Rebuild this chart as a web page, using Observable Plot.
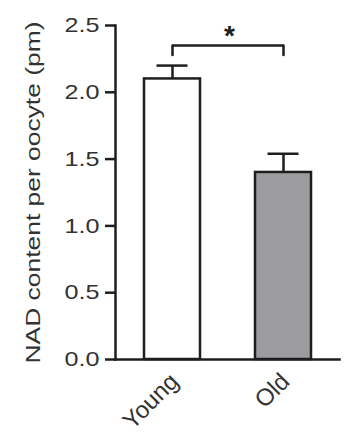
<!DOCTYPE html>
<html>
<head>
<meta charset="utf-8">
<script src="https://cdn.jsdelivr.net/npm/d3@7"></script>
<script src="https://cdn.jsdelivr.net/npm/@observablehq/plot@0.6"></script>
<style>
  html, body { margin: 0; padding: 0; background: #fff; }
  #chart svg { display: block; }
</style>
</head>
<body>
<div id="chart"></div>
<script>
// ---- data ----
const categories = ["Young", "Old"];
const means = [2.1, 1.4];
const upperErrors = [0.1, 0.14];
const barFills = ["#ffffff", "#9c9c9f"];
const yTicks = [0, 0.5, 1.0, 1.5, 2.0, 2.5];
const yTickLabels = ["0.0", "0.5", "1.0", "1.5", "2.0", "2.5"];
const yLabel = "NAD content per oocyte (pm)";
const bracketLow = 2.28;
const bracketHigh = 2.35;
const sigLabel = "*";

const rows = categories.map((c, i) => ({
  group: c, mean: means[i], top: means[i] + upperErrors[i], fill: barFills[i]
}));
const bracket = [
  {x: categories[0], y: bracketLow},
  {x: categories[0], y: bracketHigh},
  {x: categories[1], y: bracketHigh},
  {x: categories[1], y: bracketLow}
];

const ink = "#1e1e1e";
const textInk = "#333333";

const chart = Plot.plot({
  width: 357,
  height: 448,
  marginLeft: 115,
  marginRight: 18,
  marginTop: 25,
  marginBottom: 89,
  style: {fontFamily: "'Liberation Sans', Arial, sans-serif", background: "#fff"},
  x: {domain: categories, paddingInner: 0.5, paddingOuter: 0.257},
  y: {domain: [0, 2.5]},
  color: {type: "identity"},
  marks: [
    Plot.barY(rows, {x: "group", y: "mean", fill: "fill", stroke: ink, strokeWidth: 2.5}),
    Plot.ruleX(rows, {x: "group", y1: "mean", y2: "top", stroke: ink, strokeWidth: 2.5}),
    Plot.tickY(rows, {x: "group", y: "top", stroke: ink, strokeWidth: 2.5, insetLeft: 12.5, insetRight: 12.5}),
    Plot.line(bracket, {x: "x", y: "y", stroke: ink, strokeWidth: 2.5}),
    Plot.text([sigLabel], {frameAnchor: "top", y: () => bracketHigh, dx: 2, dy: -1, fontSize: 28, fontWeight: "bold", fill: ink, lineAnchor: "bottom"}),
    Plot.frame({anchor: "left", stroke: ink, strokeWidth: 2.5}),
    Plot.frame({anchor: "bottom", stroke: ink, strokeWidth: 2.5}),
    Plot.axisY({
      ticks: yTicks,
      tickFormat: (d) => yTickLabels[yTicks.indexOf(d)],
      tickSize: 10, tickPadding: 6, stroke: ink, strokeWidth: 2.5,
      fill: textInk, fontSize: 21, label: null
    }),
    Plot.axisX({
      tickSize: 0, tickRotate: -45, tickPadding: 18, dx: 2,
      fill: textInk, fontSize: 24, label: null
    }),
    Plot.text([yLabel], {frameAnchor: "left", rotate: -90, dx: -82, fontSize: 21, fill: textInk, textAnchor: "middle"})
  ]
});

document.getElementById("chart").appendChild(chart);

// stretch texts a little to match the reference's wide typeface
const svg = d3.select(chart);
svg.selectAll("g[aria-label='y-axis tick label'] text")
  .attr("textLength", 35).attr("lengthAdjust", "spacingAndGlyphs");
svg.selectAll("g[aria-label='text'] text")
  .filter(function() { return this.textContent === yLabel; })
  .attr("textLength", 342).attr("lengthAdjust", "spacingAndGlyphs");
</script>
</body>
</html>
